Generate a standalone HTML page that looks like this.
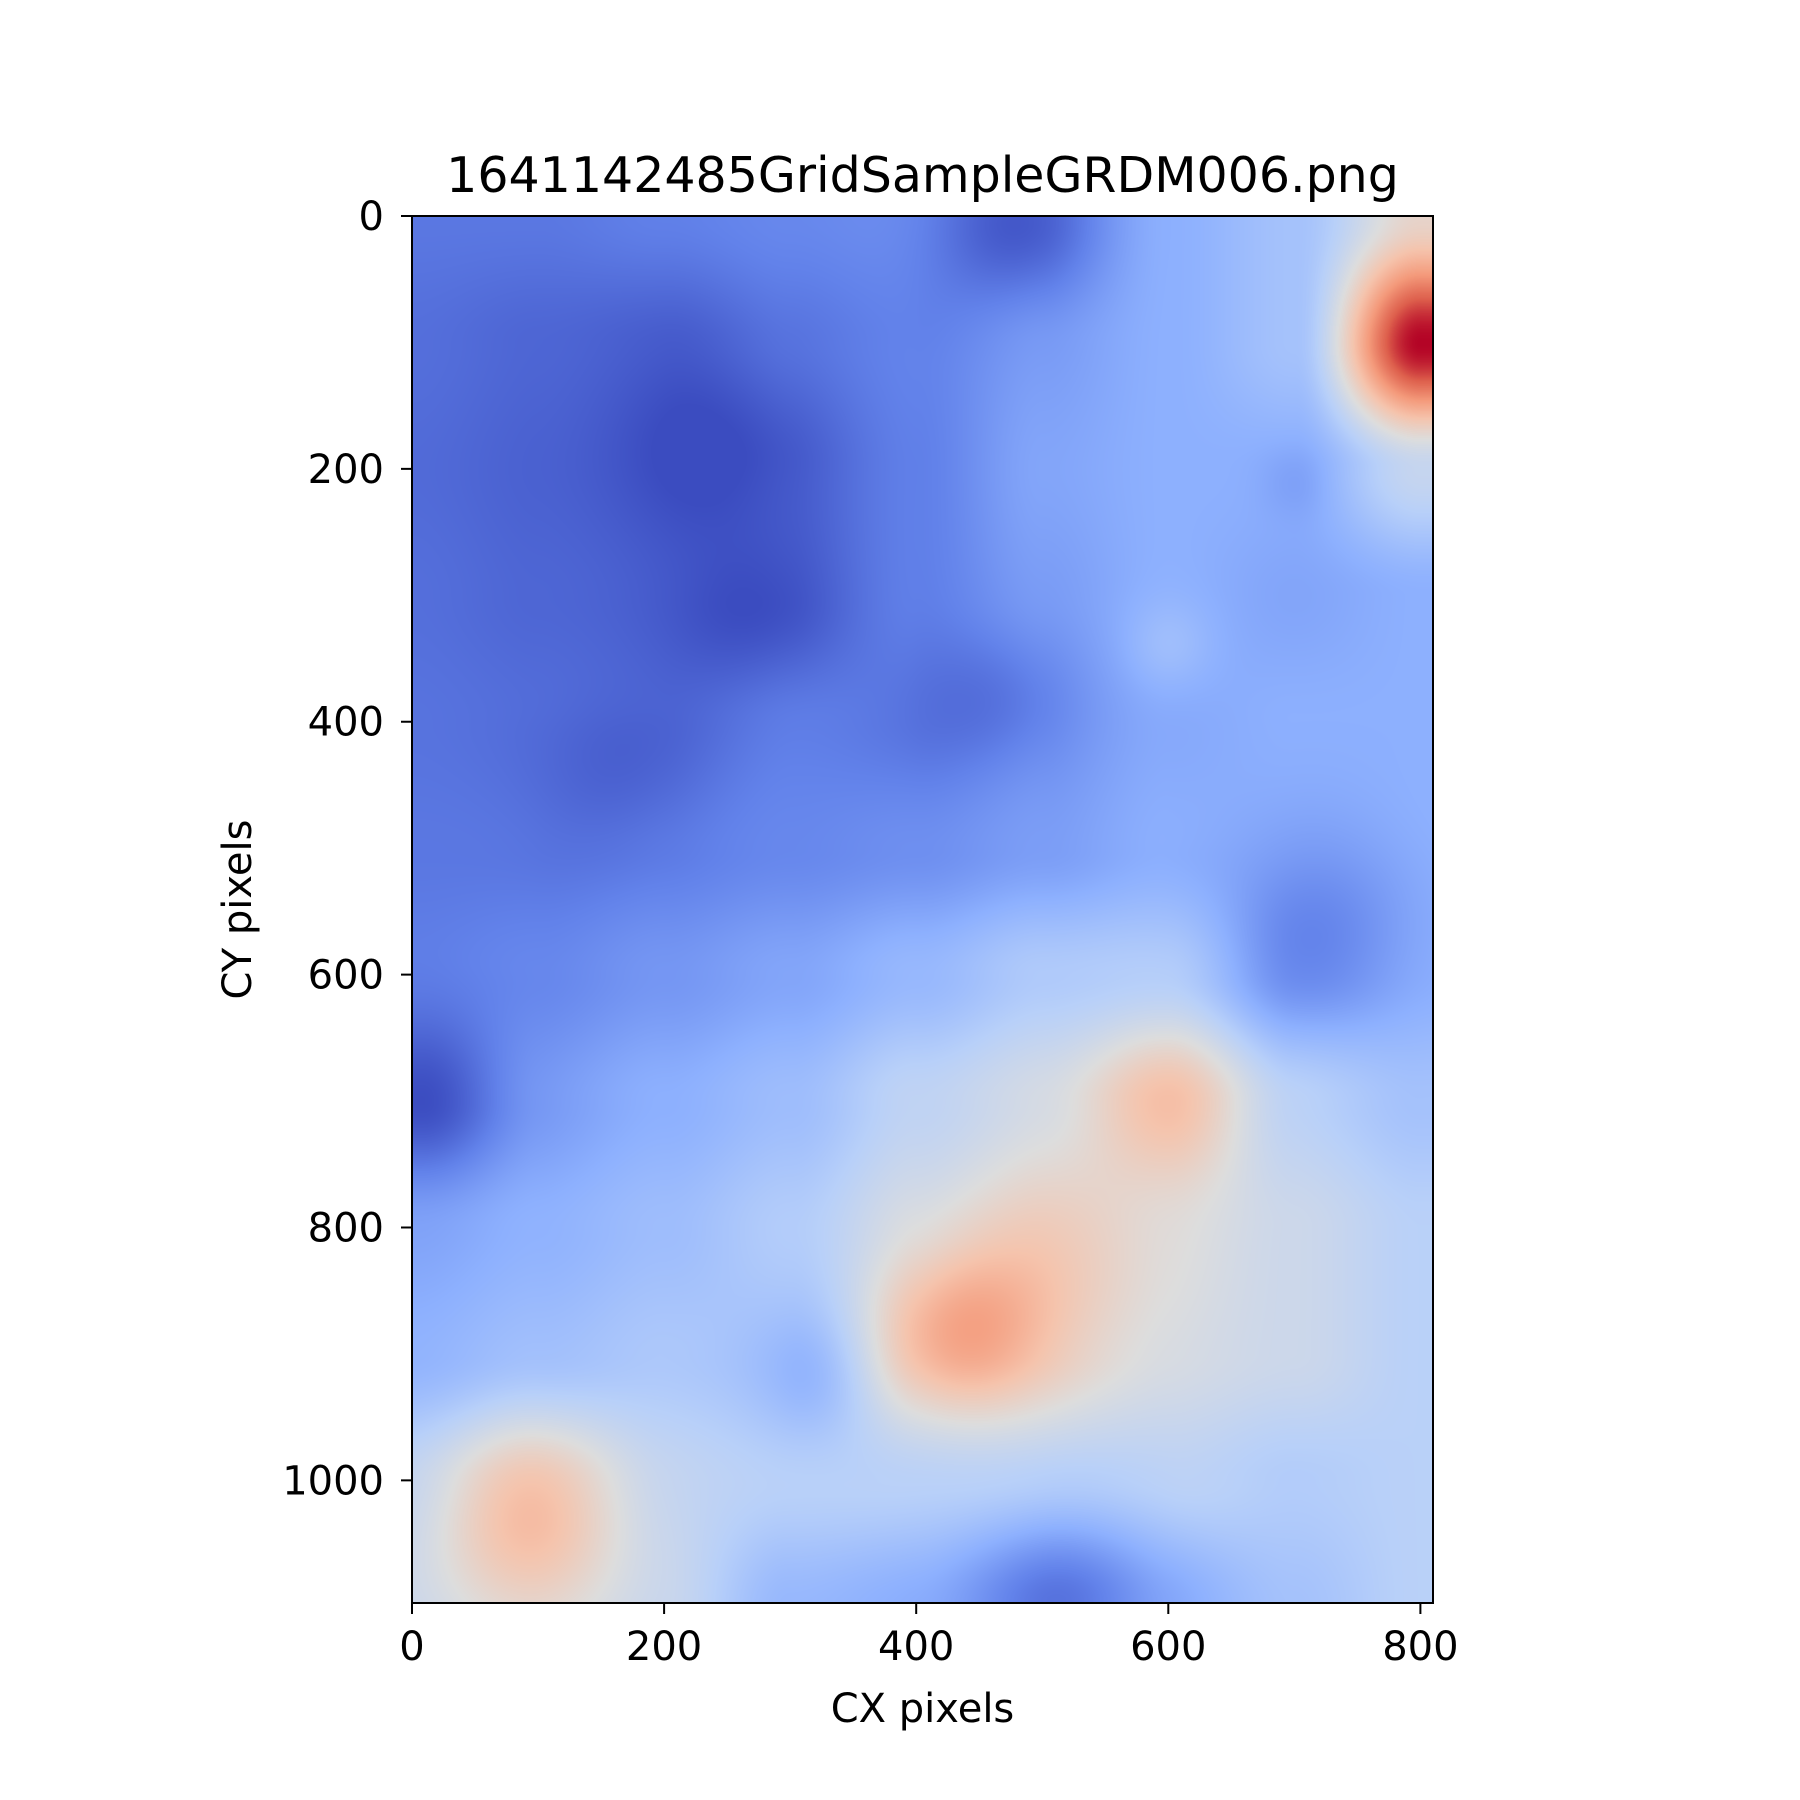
<!DOCTYPE html>
<html><head><meta charset="utf-8"><style>
body{margin:0;background:#fff;}
#root{position:relative;width:1800px;height:1800px;background:#fff;font-family:"DejaVu Sans","Liberation Sans",sans-serif;}
canvas{position:absolute;left:412px;top:216px;}
svg{position:absolute;left:0;top:0;}
</style></head><body>
<div id="root">
<canvas id="hm" width="1021" height="1387"></canvas>
<svg id="ax" width="1800" height="1800"></svg>
</div>
<script>
const xTicks=[0,200,400,600,800];
const yTicks=[0,200,400,600,800,1000];
const gridX=[0,100,200,300,400,500,600,700,800];
const gridY=[0,100,200,300,400,500,600,700,800,900,1000,1100];
const gridValues=[
[.1,.1,.12,.14,.16,.12,.25,.32,.55],
[.08,.06,.05,.1,.13,.2,.25,.32,1.0],
[.07,.05,.04,.06,.12,.22,.25,.25,.42],
[.08,.06,.05,.05,.12,.2,.25,.22,.25],
[.09,.08,.07,.12,.1,.18,.23,.25,.25],
[.1,.1,.12,.14,.16,.2,.25,.25,.26],
[.12,.14,.18,.22,.28,.35,.36,.22,.26],
[.1,.2,.25,.3,.4,.46,.5,.38,.32],
[.22,.26,.3,.36,.46,.54,.48,.44,.38],
[.26,.3,.34,.32,.5,.5,.46,.44,.38],
[.38,.45,.4,.38,.38,.4,.4,.36,.38],
[.42,.45,.42,.28,.25,.2,.26,.32,.38]];
const blobX=[440,600,90,240,265,470,470,15,720,520,325,600,160,700,540];
const blobY=[880,700,1030,180,320,380,10,700,560,1080,920,340,450,210,850];
const blobAmp=[.22,.14,.2,-.06,-.05,-.07,-.1,-.1,-.1,-.12,-.07,.06,-.04,-.04,.05];
const blobR=[48,45,55,55,45,40,45,45,55,55,35,25,45,20,60];
const L=412,R=1433,T=216,B=1603,XMAX=810,YMAX=1097;
const sx=v=>L+v*(R-L)/XMAX, sy=v=>T+v*(B-T)/YMAX;
const cmap=[[59,76,192],[98,130,234],[141,176,254],[184,208,249],[221,221,221],[245,196,173],[244,154,123],[222,96,77],[180,4,38]];
function col(t){t=Math.max(0,Math.min(1,t))*8;const i=Math.min(7,Math.floor(t)),f=t-i;return cmap[i].map((c,k)=>c+(cmap[i+1][k]-c)*f);}
function val(x,y){
  let gx=Math.min(gridX.length-1.0001,Math.max(0,x/100)),gy=Math.min(gridY.length-1.0001,Math.max(0,y/100));
  const i=Math.floor(gx),j=Math.floor(gy);let fx=gx-i,fy=gy-j;
  fx=fx*fx*(3-2*fx);fy=fy*fy*(3-2*fy);
  const a=gridValues[j][i],b=gridValues[j][i+1],c=gridValues[j+1][i],d=gridValues[j+1][i+1];
  let v=(a*(1-fx)+b*fx)*(1-fy)+(c*(1-fx)+d*fx)*fy;
  for(let k=0;k<blobX.length;k++){const dx=x-blobX[k],dy=y-blobY[k];v+=blobAmp[k]*Math.exp(-(dx*dx+dy*dy)/(2*blobR[k]*blobR[k]));}
  return v;
}
const cv=document.getElementById('hm'),ctx=cv.getContext('2d');
const W=cv.width,H=cv.height,img=ctx.createImageData(W,H);
for(let py=0;py<H;py++){const y=py*YMAX/H;for(let px=0;px<W;px++){const x=px*XMAX/W;const c=col(val(x,y));const o=(py*W+px)*4;img.data[o]=c[0];img.data[o+1]=c[1];img.data[o+2]=c[2];img.data[o+3]=255;}}
ctx.putImageData(img,0,0);
const svg=document.getElementById('ax'),NS='http://www.w3.org/2000/svg';
function mk(t,at,txt){const e=document.createElementNS(NS,t);for(const k in at)e.setAttribute(k,at[k]);if(txt!==undefined)e.textContent=txt;svg.appendChild(e);return e;}
let e=mk('rect',{x:L,y:T,width:R-L,height:B-T,fill:'none',stroke:'#000','stroke-width':2});


xTicks.forEach(v=>{const x=sx(v);
 let t=mk('line',{x1:x,x2:x,y1:B,y2:B+11,stroke:'#000','stroke-width':2});
 
 
 let l=mk('text',{x:x,y:B+57,'text-anchor':'middle','font-size':40},String(v));
 
 });
yTicks.forEach(v=>{const y=sy(v);
 let t=mk('line',{x1:L-11,x2:L,y1:y,y2:y,stroke:'#000','stroke-width':2});
 
 
 let l=mk('text',{x:L-28,y:y+14,'text-anchor':'end','font-size':40},String(v));
 
 });
e=mk('text',{x:(L+R)/2,y:192,'text-anchor':'middle','font-size':49},'1641142485GridSampleGRDM006.png');


e=mk('text',{x:(L+R)/2,y:1722,'text-anchor':'middle','font-size':40},'CX pixels');


e=mk('text',{x:251,y:(T+B)/2,'text-anchor':'middle','font-size':40,transform:`rotate(-90 251 ${(T+B)/2})`},'CY pixels');


</script>
</body></html>
